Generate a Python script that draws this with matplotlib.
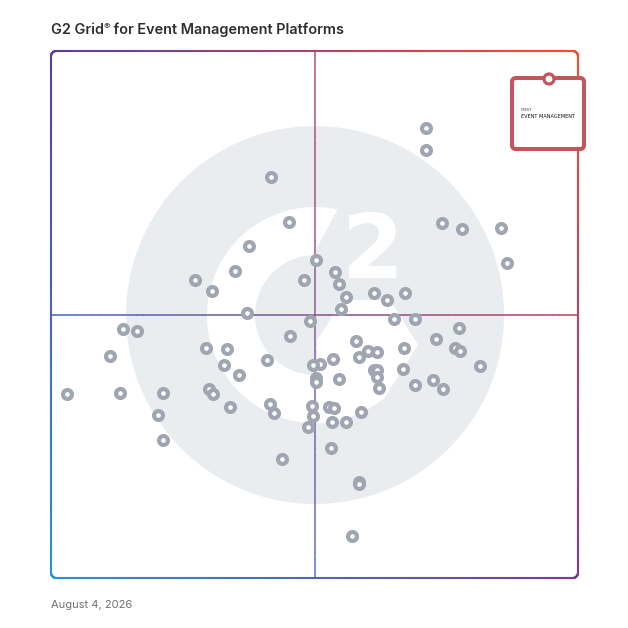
import numpy as np
import matplotlib
matplotlib.use("Agg")
import matplotlib.pyplot as plt
from matplotlib.collections import LineCollection
from matplotlib.patches import Circle, Wedge, Polygon, FancyBboxPatch
from matplotlib.colors import to_rgb

title_main = "G2 Grid"
title_mark = "®"
title_rest = " for Event Management Platforms"
date_label = "August 4, 2026"
badge_small = "CREST"
badge_label = "EVENT MANAGEMENT"

# satisfaction (x) and market presence (y) on a 0-100 grid scale
satisfaction = [71.2, 71.2, 41.7, 45.1, 74.2, 77.9, 85.3, 37.6, 86.5, 50.2,
                34.9, 27.4, 30.6, 48.0, 53.8, 54.6, 55.9, 55.0, 61.3, 63.8,
                67.2, 37.1, 49.2, 65.1, 69.0, 77.4, 13.7, 16.4, 45.4, 73.1,
                57.9, 76.7, 77.7, 11.2, 29.5, 33.4, 66.9, 60.2, 61.9, 58.5,
                53.6, 41.0, 32.9, 35.6, 51.1, 49.8, 61.2, 61.9, 61.9, 62.2,
                66.8, 81.4, 54.6, 50.3, 50.3, 72.5, 74.3, 69.1, 3.0, 13.0,
                21.2, 30.0, 30.7, 34.0, 41.5, 42.4, 49.5, 49.8, 52.7, 53.7,
                58.8, 20.3, 53.4, 56.0, 48.8, 21.2, 53.1, 43.9, 58.5, 58.5,
                57.1]
market_presence = [85.4, 81.2, 76.1, 67.6, 67.4, 66.2, 66.4, 63.0, 59.8, 60.3,
                   58.3, 56.5, 54.5, 56.5, 58.0, 55.8, 53.4, 51.1, 54.0, 52.8,
                   54.0, 50.2, 48.7, 49.1, 49.2, 47.4, 47.2, 46.8, 46.0, 45.4,
                   44.9, 43.6, 43.1, 42.1, 43.6, 43.4, 43.7, 43.1, 42.8, 41.9,
                   41.6, 41.4, 40.5, 38.5, 40.6, 40.4, 39.5, 39.5, 38.1, 36.1,
                   39.6, 40.2, 37.7, 37.9, 37.2, 37.6, 35.9, 36.6, 34.9, 35.1,
                   35.1, 35.9, 35.0, 32.5, 33.0, 31.4, 32.6, 30.8, 32.4, 32.3,
                   31.5, 30.9, 29.6, 29.6, 28.6, 26.2, 24.7, 22.6, 18.3, 17.8,
                   8.0]

TL = np.array(to_rgb("#5b3da6"))
TR = np.array(to_rgb("#ff4b2b"))
BL = np.array(to_rgb("#2a93d5"))
BR = np.array(to_rgb("#7b3a96"))


def grad(x, y):
    u = np.clip(np.asarray(x) / 100.0, 0, 1)[:, None]
    w = np.clip(np.asarray(y) / 100.0, 0, 1)[:, None]
    top = (1 - u) * TL + u * TR
    bot = (1 - u) * BL + u * BR
    return (1 - w) * bot + w * top


def grad_line(ax, pts, lw, alpha=1.0, z=2):
    pts = np.asarray(pts)
    segs = np.stack([pts[:-1], pts[1:]], axis=1)
    mid = (pts[:-1] + pts[1:]) / 2
    cols = np.hstack([grad(mid[:, 0], mid[:, 1]), np.full((len(mid), 1), alpha)])
    lc = LineCollection(segs, colors=cols, linewidths=lw, capstyle="round",
                        zorder=z, clip_on=False)
    ax.add_collection(lc)


fig = plt.figure(figsize=(6.28, 6.28), dpi=100)
fig.patch.set_facecolor("white")

# grid box spans 51..578 px
ax = fig.add_axes([51 / 628, 50 / 628, 527 / 628, 527 / 628])
ax.set_xlim(0, 100)
ax.set_ylim(0, 100)
ax.axis("off")

# faint G2 logo behind the points
px = 1 / 5.27
cx, cy = 50.1, 49.9
logo_grey = "#eaedf0"
ax.add_patch(Circle((cx, cy), 189 * px, fc=logo_grey, ec="none", zorder=0.5))
ax.add_patch(Wedge((cx, cy), 108 * px, 78, 309, width=48 * px, fc="white",
                   ec="none", zorder=0.6))
chev = [(28, 15), (75, 15), (103, -30), (68, -85), (2, -85), (2, -25)]
ax.add_patch(Polygon([(cx + a * px, cy + b * px) for a, b in chev],
                     fc="white", ec="none", zorder=0.6))
cut = [(22.5, 105.6), (12.5, 58.7), (-2, 60)]
ax.add_patch(Polygon([(cx + a * px, cy + b * px) for a, b in cut],
                     fc=logo_grey, ec="none", zorder=0.7))
ax.text(cx + 58 * px, cy + 37 * px, "2", ha="center", va="baseline",
        fontsize=64, fontweight="bold", family="DejaVu Sans", color="white",
        zorder=0.7)

# quadrant lines
t = np.linspace(0, 100, 300)
grad_line(ax, np.column_stack([t, np.full_like(t, 50)]), 1.1, 0.85, 1)
grad_line(ax, np.column_stack([np.full_like(t, 50), t]), 1.1, 0.75, 1)

# rounded border
r = 1.0
n = 300
pts = []
pts += list(zip(np.linspace(r, 100 - r, n), np.zeros(n)))
a = np.linspace(-np.pi / 2, 0, 30)
pts += list(zip(100 - r + r * np.cos(a), r + r * np.sin(a)))
pts += list(zip(np.full(n, 100), np.linspace(r, 100 - r, n)))
a = np.linspace(0, np.pi / 2, 30)
pts += list(zip(100 - r + r * np.cos(a), 100 - r + r * np.sin(a)))
pts += list(zip(np.linspace(100 - r, r, n), np.full(n, 100)))
a = np.linspace(np.pi / 2, np.pi, 30)
pts += list(zip(r + r * np.cos(a), 100 - r + r * np.sin(a)))
pts += list(zip(np.zeros(n), np.linspace(100 - r, r, n)))
a = np.linspace(np.pi, 1.5 * np.pi, 30)
pts += list(zip(r + r * np.cos(a), r + r * np.sin(a)))
pts.append(pts[0])
grad_line(ax, pts, 1.5, 1.0, 4)

ax.plot(satisfaction, market_presence, "o", ls="none", ms=6.4, mew=3.0,
        mfc="white", mec="#a0a5b2", zorder=3, clip_on=False)

# overlay in pixel coordinates for badge and labels
ov = fig.add_axes([0, 0, 1, 1], zorder=5)
ov.set_xlim(0, 628)
ov.set_ylim(628, 0)
ov.axis("off")
ov.patch.set_alpha(0)

badge_red = "#c1565c"
ov.add_patch(FancyBboxPatch((512, 78), 72, 71, boxstyle="round,pad=0,rounding_size=4",
                            lw=2.9, ec=badge_red, fc="white"))
ov.add_patch(Circle((549, 79), 5, lw=2.3, ec=badge_red, fc="white"))
ov.text(521, 111, badge_small, fontsize=2.4, color="#333333", va="baseline")
ov.text(521, 118, badge_label, fontsize=3.6, color="#111111", va="baseline",
        family="DejaVu Sans")

title_font = dict(fontsize=10.4, fontweight="semibold", color="#2e2e2e",
                  family=["Inter", "DejaVu Sans"], va="baseline")
t1 = ov.text(51, 34, title_main, **title_font)
fig.canvas.draw()
rend = fig.canvas.get_renderer()
bb = t1.get_window_extent(rend)
t2 = ov.text(bb.x1, 29, title_mark, fontsize=6.8, color="#2e2e2e",
             family=["Inter", "DejaVu Sans"], va="baseline")
bb2 = t2.get_window_extent(rend)
ov.text(bb2.x1, 34, title_rest, **title_font)

ov.text(51, 608, date_label, fontsize=8, color="#707070",
        family=["Inter", "DejaVu Sans"], va="baseline")

fig.savefig("out.png", dpi=100, facecolor="white")
